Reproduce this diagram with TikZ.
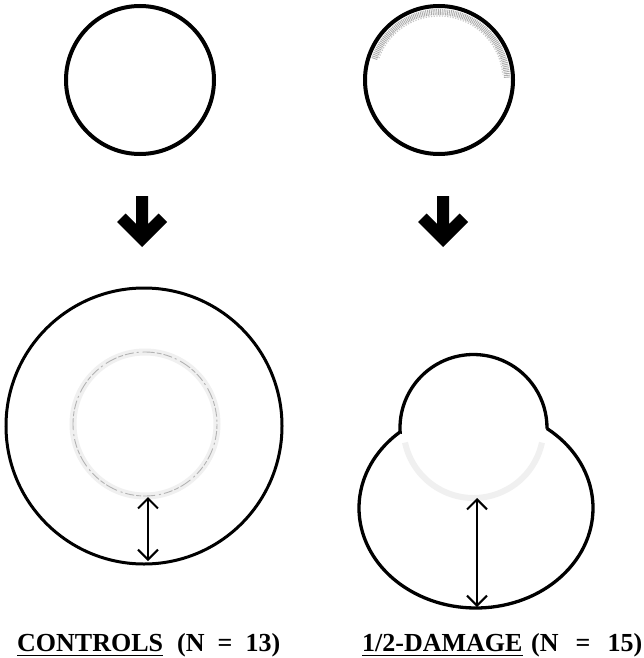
\documentclass[tikz,border=0pt]{standalone}
\usepackage{fontspec}
\setmainfont{Liberation Serif}
\usetikzlibrary{arrows.meta,calc}
\begin{document}
\begin{tikzpicture}[x=1pt,y=-1pt,
  outline/.style={line width=3pt, black},
  thickring/.style={line width=4pt, black},
  barb/.tip={Straight Barb[length=10pt,width=20pt,line width=2pt]},
  measure/.style={line width=2pt, black, barb-barb},
  lbl/.style={font=\fontsize{26}{28}\selectfont\bfseries, inner sep=0pt, anchor=base west},
  uline/.style={line width=1.6pt},
  pics/downarrow/.style={code={
    \fill[black] (0,0) -- (-25,-25) -- (-16.5,-33.5) -- (-6,-23) -- (-6,-51)
      -- (6,-51) -- (6,-23) -- (16.5,-33.5) -- (25,-25) -- cycle;}},
]
\fill[white] (0,0) rectangle (643,658);
\useasboundingbox (0,0) rectangle (643,658);

% top circles
\coordinate (tl) at (140,80);
\coordinate (tr) at (439,80);
\draw[thickring] (tl) circle (74);
\draw[gray!65, line width=6pt, dash pattern=on 0.9pt off 0.9pt]
  ($(tr)+(198:68)$) arc[start angle=198, end angle=358, radius=68];
\draw[gray!45, line width=1.2pt, dash pattern=on 1.2pt off 1.5pt]
  ($(tr)+(200:64)$) arc[start angle=200, end angle=355, radius=64];
\draw[thickring] (tr) circle (74);

% bold arrows
\pic at (142,247) {downarrow};
\pic at (443,247) {downarrow};

% left big circle
\coordinate (bl) at (144,426);
\coordinate (il) at (145,424);
\draw[gray!12, line width=7pt] (il) circle (72);
\draw[gray!60, line width=0.9pt, dash pattern=on 5pt off 2pt on 9pt off 3pt on 2pt off 4pt on 12pt off 2pt] (il) circle (72);
\draw[outline] (bl) circle (138);
\coordinate (a1) at (148,497);
\coordinate (a2) at (148,561);
\draw[measure] (a1) -- (a2);

% right shape
\coordinate (bc) at (473.5,428);
\coordinate (ec) at (476,508);
\draw[gray!12, line width=6pt] ($(bc)+(168:70)$) arc[start angle=168, end angle=12, radius=70];
\draw[outline, line width=3.3pt, line join=miter]
  ($(bc)+(176.9:73.5)$) arc[start angle=176.9, end angle=360.4, radius=73.5]
  -- ($(ec)+(-52.7:117 and 100)$) arc[start angle=-52.7, end angle=229.5, x radius=117, y radius=100]
  -- cycle;
\coordinate (b1) at (477,498);
\coordinate (b2) at (477,607);
\draw[measure] (b1) -- (b2);

% labels
\node[lbl] (ctl) at (17,651) {CONTROLS};
\draw[uline] ($(ctl.base west)+(0,4.5)$) -- ($(ctl.base east)+(0,4.5)$);
\node[lbl] (nctl) at (177,651) {\makebox[103pt][s]{(N = 13)}};
\node[lbl] (dmg) at (362,651) {1/2-DAMAGE};
\draw[uline] ($(dmg.base west)+(0,4.5)$) -- ($(dmg.base east)+(0,4.5)$);
\node[lbl] (ndmg) at (531,651) {\makebox[111pt][s]{(N = 15)}};
\end{tikzpicture}
\end{document}
